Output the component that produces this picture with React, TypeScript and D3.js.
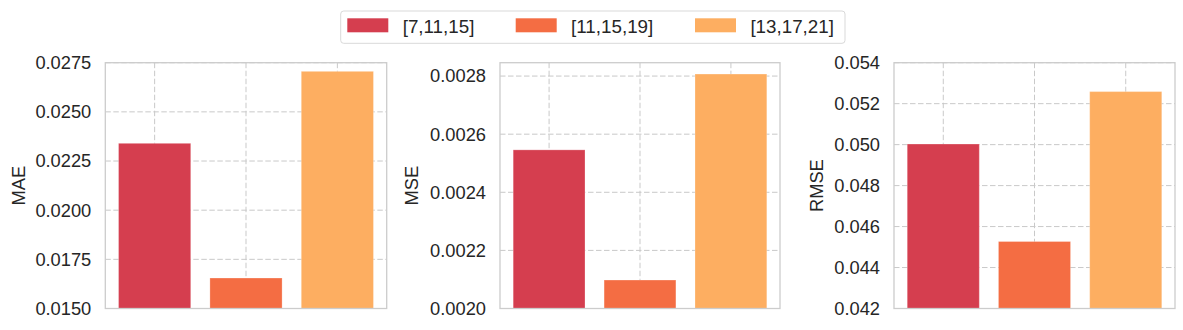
import React from "react";
import * as d3 from "d3";

const categories = ["[7,11,15]", "[11,15,19]", "[13,17,21]"];
const colors = ["#d53e4f", "#f46d43", "#fdae61"];

const maeValues = [0.0234, 0.01655, 0.02706];
const mseValues = [0.002546, 0.002098, 0.002807];
const rmseValues = [0.05003, 0.04527, 0.05259];

const maeTicks = [0.015, 0.0175, 0.02, 0.0225, 0.025, 0.0275];
const mseTicks = [0.002, 0.0022, 0.0024, 0.0026, 0.0028];
const rmseTicks = [0.042, 0.044, 0.046, 0.048, 0.05, 0.052, 0.054];

const panels = [
  { label: "MAE", values: maeValues, ticks: maeTicks, domain: [0.015, 0.0275], fmt: ".4f", left: 105.3, right: 386.7, labelX: 19 },
  { label: "MSE", values: mseValues, ticks: mseTicks, domain: [0.002, 0.002846], fmt: ".4f", left: 500, right: 780, labelX: 412 },
  { label: "RMSE", values: rmseValues, ticks: rmseTicks, domain: [0.042, 0.054], fmt: ".3f", left: 894, right: 1175, labelX: 817 },
];

const TOP = 62.7;
const BOTTOM = 308.5;
const FONT = "'Liberation Sans', Arial, 'DejaVu Sans', sans-serif";
const FS = 18.3;
const LFS = 18.8;

function Panel({ p }: { p: (typeof panels)[number] }) {
  const x = d3.scaleLinear().domain([-0.54, 2.54]).range([p.left, p.right]);
  const y = d3.scaleLinear().domain(p.domain).range([BOTTOM, TOP]);
  const f = d3.format(p.fmt);
  const bw = 0.79;
  return (
    <g>
      {p.ticks.map((t, i) => (
        <line key={"h" + i} x1={p.left} x2={p.right} y1={y(t)} y2={y(t)} stroke="#c9c9c9" strokeWidth={1} strokeDasharray="5.5,2.5" />
      ))}
      {categories.map((c, i) => (
        <line key={"v" + i} x1={x(i)} x2={x(i)} y1={TOP} y2={BOTTOM} stroke="#c9c9c9" strokeWidth={1} strokeDasharray="5.5,2.5" />
      ))}
      {p.values.map((v, i) => (
        <rect
          key={"b" + i}
          x={x(i - bw / 2)}
          width={x(i + bw / 2) - x(i - bw / 2)}
          y={y(v)}
          height={BOTTOM - y(v)}
          fill={colors[i]}
          stroke="#ffffff"
          strokeOpacity={0.25}
          strokeWidth={1}
        />
      ))}
      <rect x={p.left} y={TOP} width={p.right - p.left} height={BOTTOM - TOP} fill="none" stroke="#cccccc" strokeWidth={1.3} />
      {p.ticks.map((t, i) => (
        <text key={"t" + i} x={p.left - 14} y={y(t)} dy="0.35em" textAnchor="end" fontSize={FS} fontFamily={FONT} fill="#262626">
          {f(t)}
        </text>
      ))}
      <text
        transform={`translate(${p.labelX},${(TOP + BOTTOM) / 2}) rotate(-90)`}
        dy="0.35em"
        textAnchor="middle"
        fontSize={FS}
        fontFamily={FONT}
        fill="#262626"
      >
        {p.label}
      </text>
    </g>
  );
}

export default function App() {
  const legendX = [347.3, 515.7, 695];
  return (
    <svg width={1183} height={330} style={{ position: "absolute", left: 0, top: 0, background: "#fff" }}>
      <rect x={0} y={0} width={1183} height={330} fill="#fff" />
      {panels.map((p) => (
        <Panel key={p.label} p={p} />
      ))}
      <rect x={340.7} y={11} width={504.3} height={32.3} rx={3} fill="#fff" stroke="#d9d9d9" strokeWidth={1} />
      {categories.map((c, i) => (
        <g key={c}>
          <rect x={legendX[i]} y={18.3} width={41} height={14} fill={colors[i]} />
          <text x={legendX[i] + 55.4} y={26} dy="0.35em" fontSize={LFS} fontFamily={FONT} fill="#262626">
            {c}
          </text>
        </g>
      ))}
    </svg>
  );
}
